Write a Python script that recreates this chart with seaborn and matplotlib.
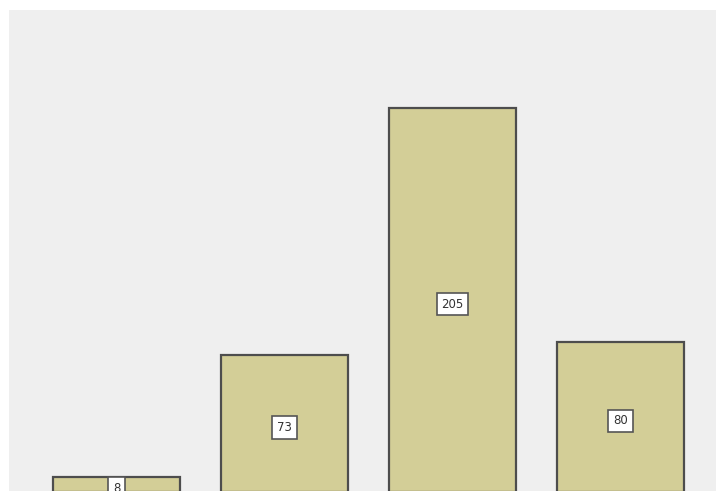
import matplotlib
matplotlib.use("Agg")
import matplotlib.pyplot as plt
import seaborn as sns
import pandas as pd

categories = ["Q1", "Q2", "Q3", "Q4"]
counts = [8, 73, 205, 80]

df = pd.DataFrame({"category": categories, "count": counts})

sns.set_theme(style="white")
fig = plt.figure(figsize=(7.16, 4.91), dpi=100)
fig.patch.set_facecolor("white")
ax = fig.add_axes([9 / 716, -0.5 / 491, 707 / 716, 481.5 / 491])
ax.set_facecolor("#efefef")

sns.barplot(data=df, x="category", y="count", order=categories,
            color="#d3ce97", saturation=1, width=0.756,
            edgecolor="#4d4d4d", linewidth=1.6, ax=ax)

ax.set_xlim(-0.64, 3.568)
ax.set_ylim(0, 257.5)

for i, v in enumerate(counts):
    ax.annotate(str(v), xy=(i, v / 2), xytext=(0, -3), textcoords="offset points",
                ha="center", va="center", fontsize=8.5, color="#333333",
                bbox=dict(boxstyle="square,pad=0.4", facecolor="white",
                          edgecolor="#555555", linewidth=1.2))

ax.set_xlabel("")
ax.set_ylabel("")
ax.set_xticks([])
ax.set_yticks([])
for s in ax.spines.values():
    s.set_visible(False)

fig.savefig("out.png", dpi=100)
